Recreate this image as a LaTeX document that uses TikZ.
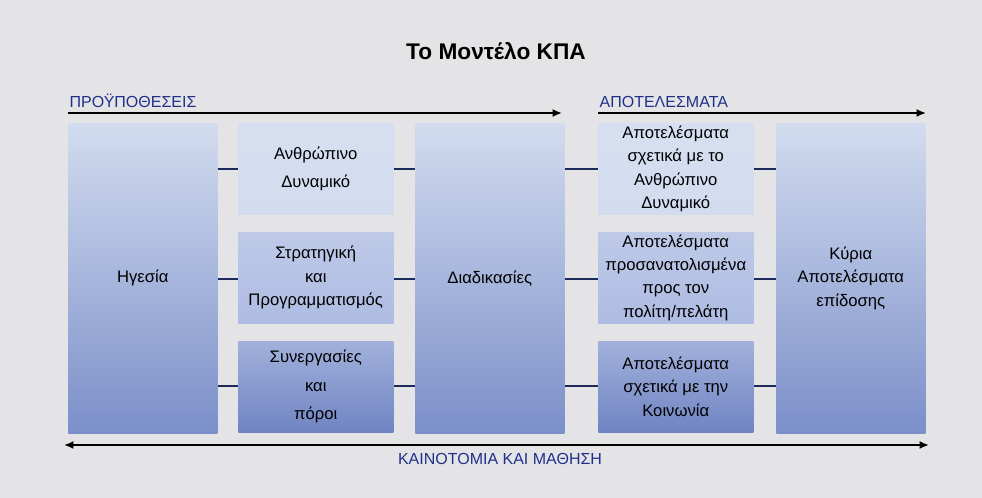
\documentclass[tikz,border=0pt]{standalone}
\usepackage{fontspec}
\setmainfont{Liberation Sans}
\usetikzlibrary{arrows.meta}
\definecolor{bg}{HTML}{E4E4E6}
\definecolor{navy}{HTML}{1F2A5C}
\definecolor{lblue}{HTML}{20308A}
\tikzset{
  big/.style={anchor=north west,minimum width=149*0.75pt,minimum height=310*0.75pt,top color=c1,bottom color=c3,align=center,inner sep=0pt,font=\fontsize{12.5pt}{17.5pt}\selectfont},
  small/.style={anchor=north west,minimum width=155*0.75pt,minimum height=91*0.75pt,align=center,inner sep=0pt,font=\fontsize{12.5pt}{17.5pt}\selectfont},
  link/.style={draw=navy,line width=1.8pt},
  arr/.style={draw=black,line width=1.6pt,-{Latex[length=7pt,width=6pt]}},
}
\definecolor{c1}{HTML}{D2DCEF}
\definecolor{c2}{HTML}{AEBCE2}
\definecolor{c3}{HTML}{7B8FC9}
\definecolor{c4}{HTML}{6F84C2}
\begin{document}
\begin{tikzpicture}[x=0.75pt,y=-0.75pt]
\fill[bg] (0,0) rectangle (982,498);
\node[font=\bfseries\fontsize{17pt}{19pt}\selectfont] (title) at (496,51) {Το Μοντέλο ΚΠΑ};
\coordinate (p1) at (68,113); \coordinate (p2) at (562,113);
\coordinate (r1) at (598,113); \coordinate (r2) at (926,113);
\draw[arr] (p1) -- (p2);
\draw[arr] (r1) -- (r2);
\node[anchor=south west,text=lblue,font=\fontsize{12pt}{13pt}\selectfont,inner sep=1pt] (pl) at (68,109) {ΠΡΟΫΠΟΘΕΣΕΙΣ};
\node[anchor=south west,text=lblue,font=\fontsize{12pt}{13pt}\selectfont,inner sep=1pt] (rl) at (598,109) {ΑΠΟΤΕΛΕΣΜΑΤΑ};
\node[big] (lead) at (68,123) {Ηγεσία};
\node[big] (proc) at (415,123) {Διαδικασίες};
\node[big] (res) at (776,123) {Κύρια\\Αποτελέσματα\\επίδοσης};
\node[small,top color=c1!90,bottom color=c1] (a1) at (238,123) {Ανθρώπινο\\[3pt]Δυναμικό};
\node[small,top color=c2!80!white,bottom color=c2] (a2) at (238,232) {Στρατηγική\\και\\Προγραμματισμός};
\node[small,top color=c2!80!c4,bottom color=c4] (a3) at (238,341) {Συνεργασίες\\[4pt]και\\[4pt]πόροι};
\node[small,top color=c1!90,bottom color=c1] (b1) at (598,123) {Αποτελέσματα\\σχετικά με το\\Ανθρώπινο\\Δυναμικό};
\node[small,top color=c2!80!white,bottom color=c2] (b2) at (598,232) {Αποτελέσματα\\προσανατολισμένα\\προς τον\\πολίτη/πελάτη};
\node[small,top color=c2!80!c4,bottom color=c4] (b3) at (598,341) {Αποτελέσματα\\σχετικά με την\\Κοινωνία};
\foreach \y/\a/\b in {169/1/1,279/2/2,386/3/3}{
  \draw[link] (lead.east |- 0,\y) -- (a\a.west |- 0,\y);
  \draw[link] (a\a.east |- 0,\y) -- (proc.west |- 0,\y);
  \draw[link] (proc.east |- 0,\y) -- (b\b.west |- 0,\y);
  \draw[link] (b\b.east |- 0,\y) -- (res.west |- 0,\y);
}
\coordinate (k1) at (64,445); \coordinate (k2) at (929,445);
\draw[draw=black,line width=1.6pt,{Latex[length=7pt,width=6pt]}-{Latex[length=7pt,width=6pt]}] (k1) -- (k2);
\node[text=lblue,font=\fontsize{12pt}{13pt}\selectfont] (kl) at (500,459) {ΚΑΙΝΟΤΟΜΙΑ ΚΑΙ ΜΑΘΗΣΗ};
\end{tikzpicture}
\end{document}
